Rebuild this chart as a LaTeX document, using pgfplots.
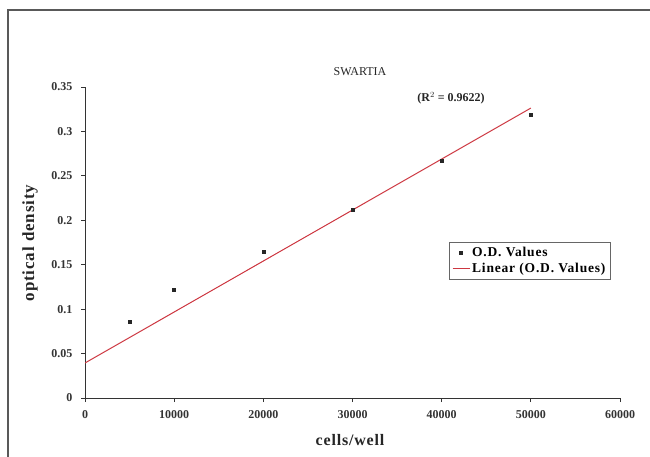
\documentclass[border=0pt]{standalone}
\usepackage{pgfplots}
\pgfplotsset{compat=1.18}
\usepackage{fontspec}
\setmainfont{Liberation Serif}
\newfontfamily\spacedfont[LetterSpace=6]{Liberation Serif}
\newfontfamily\widefont[LetterSpace=5]{Liberation Serif}
\definecolor{trend}{RGB}{205,55,65}
\begin{document}
\begin{tikzpicture}[x=1pt,y=1pt]
\path[use as bounding box] (0,0) rectangle (650,-457);
\draw[black!65, line width=1.3pt] (8,-457) -- (8,-10) -- (650,-10);
\begin{axis}[
  at={(85pt,-398pt)}, anchor=south west,
  width=535pt, height=311pt, scale only axis,
  xmin=0, xmax=60000, ymin=0, ymax=0.35,
  axis lines=left,
  axis line style={-, black!80, line width=0.9pt},
  xtick={0,10000,20000,30000,40000,50000,60000},
  ytick={0,0.05,0.1,0.15,0.2,0.25,0.3,0.35},
  scaled x ticks=false, scaled y ticks=false,
  xticklabel style={/pgf/number format/1000 sep={}},
  yticklabel style={/pgf/number format/fixed},
  /pgf/number format/assume math mode=true,
  tick label style={font=\bfseries\fontsize{12}{14}\selectfont, text=black!80},
  tick align=outside, tick pos=left,
  major tick length=4pt,
  tick style={black!80, line width=0.8pt},
  xticklabel shift=5pt, yticklabel shift=5pt,
  legend style={at={(axis description cs:0.680,0.502)}, anchor=north west,
    draw=black!60, line width=0.6pt, font=\spacedfont\bfseries\fontsize{13.5}{17}\selectfont,
    inner sep=3pt, row sep=1pt},
  legend cell align=left,
]
\addplot[only marks, mark=square*, mark size=1.5pt, black!85] coordinates {
 (5000,0.0855) (10000,0.1215) (20000,0.165) (30000,0.2116) (40000,0.2667) (50000,0.3185)};
\addlegendentry{O.D. Values}
\addplot[trend, line width=1pt, no marks] coordinates {(0,0.0394) (50000,0.3263)};
\addlegendentry{Linear (O.D. Values)}
\end{axis}
\node[font=\fontsize{12}{14}\selectfont, text=black!85] at (360,-72) {SWARTIA};
\node[font=\bfseries\fontsize{12}{14}\selectfont, text=black!85] at (451,-98) {(R$^{2}$ = 0.9622)};
\node[font=\widefont\bfseries\fontsize{16}{19}\selectfont, text=black!85] at (350,-440) {cells/well};
\node[font=\widefont\bfseries\fontsize{17}{20}\selectfont, text=black!85, rotate=90] at (30,-243) {optical density};
\end{tikzpicture}
\end{document}
